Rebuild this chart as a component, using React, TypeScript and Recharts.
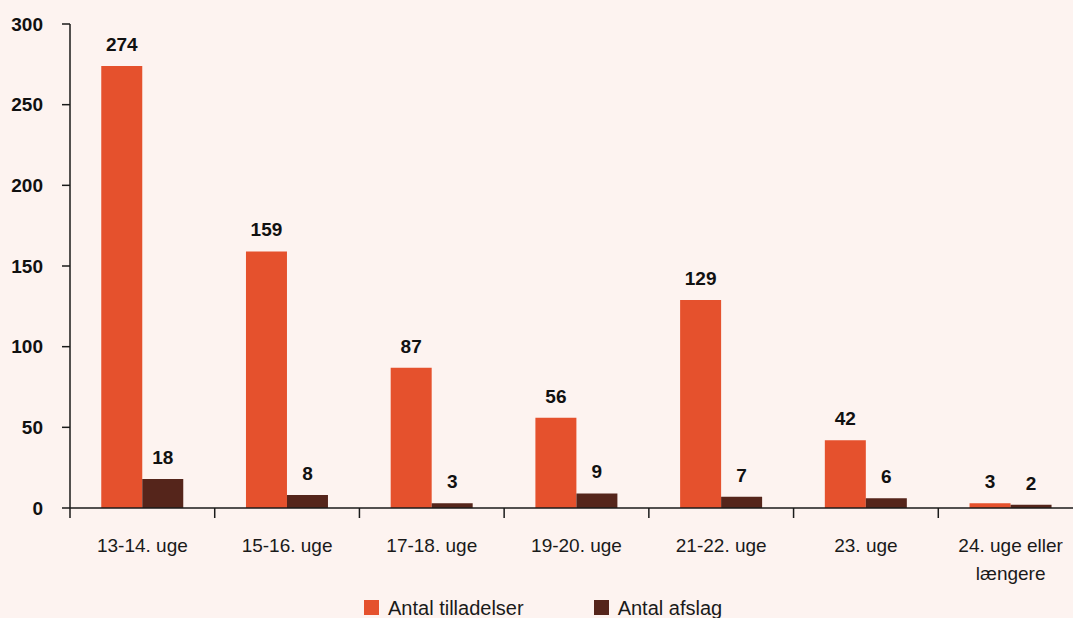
import { BarChart, Bar, XAxis, YAxis, LabelList, Legend } from 'recharts';

const categories = [
  '13-14. uge',
  '15-16. uge',
  '17-18. uge',
  '19-20. uge',
  '21-22. uge',
  '23. uge',
  '24. uge eller\nlængere',
];
const tilladelser = [274, 159, 87, 56, 129, 42, 3];
const afslag = [18, 8, 3, 9, 7, 6, 2];
const yTicks = [0, 50, 100, 150, 200, 250, 300];

const seriesNames = { tilladelser: 'Antal tilladelser', afslag: 'Antal afslag' };
const colors = { tilladelser: '#E5512D', afslag: '#55251B' };

const data = categories.map((name, i) => ({
  name,
  tilladelser: tilladelser[i],
  afslag: afslag[i],
}));

const FONT = '"Liberation Sans", Arial, Helvetica, sans-serif';
const AXIS = '#1a1a1a';

function CategoryTick(props: any) {
  const { x, y, payload } = props;
  const half = payload?.offset ?? 72.3;
  const lines = String(payload.value).split('\n');
  return (
    <g>
      <line x1={x - half} y1={y} x2={x - half} y2={y + 10} stroke={AXIS} strokeWidth={1.5} />
      <text x={x} y={y + 44} textAnchor="middle" fill="#1a1a1a" fontSize={19} fontFamily={FONT}>
        {lines.map((l, i) => (
          <tspan key={i} x={x} dy={i === 0 ? 0 : 28}>
            {l}
          </tspan>
        ))}
      </text>
    </g>
  );
}

function renderLegend() {
  const items = [
    { key: 'tilladelser', label: seriesNames.tilladelser, color: colors.tilladelser },
    { key: 'afslag', label: seriesNames.afslag, color: colors.afslag },
  ];
  return (
    <div style={{ display: 'flex', fontFamily: FONT, fontSize: 20, lineHeight: '20px', color: '#1a1a1a' }}>
      {items.map((it, i) => (
        <div key={it.key} style={{ display: 'flex', alignItems: 'flex-start', marginRight: i === 0 ? 70 : 0 }}>
          <span style={{ width: 15, height: 15, background: it.color, marginTop: 2, marginRight: 9, display: 'inline-block' }} />
          <span style={{ whiteSpace: 'nowrap' }}>{it.label}</span>
        </div>
      ))}
    </div>
  );
}

export default function App() {
  return (
    <div
      style={{
        position: 'absolute',
        left: 0,
        top: 0,
        width: 1073,
        height: 618,
        overflow: 'hidden',
        background: '#FDF3F0',
      }}
    >
      <BarChart
        width={1090}
        height={618}
        data={data}
        margin={{ top: 24, right: 7, left: 10, bottom: 50 }}
        barCategoryGap="21.6%"
        barGap={0}
      >
        <XAxis
          dataKey="name"
          tick={<CategoryTick />}
          tickLine={false}
          tickSize={0}
          tickMargin={0}
          height={60}
          interval={0}
          axisLine={{ stroke: AXIS, strokeWidth: 1.5 }}
        />
        <YAxis
          domain={[0, 300]}
          ticks={yTicks}
          width={60}
          tickSize={8}
          tickMargin={19}
          interval={0}
          axisLine={{ stroke: AXIS, strokeWidth: 1.5 }}
          tickLine={{ stroke: AXIS, strokeWidth: 1.5 }}
          tick={{ fill: '#111', fontSize: 19, fontWeight: 'bold', fontFamily: FONT }}
        />
        <Legend
          layout="vertical"
          verticalAlign="middle"
          align="center"
          content={renderLegend}
          wrapperStyle={{ position: 'absolute', left: 364, top: 598, width: 'auto', height: 'auto' }}
        />
        <Bar dataKey="tilladelser" name={seriesNames.tilladelser} fill={colors.tilladelser} isAnimationActive={false}>
          <LabelList
            dataKey="tilladelser"
            position="top"
            offset={15}
            fill="#111"
            fontSize={19}
            fontWeight="bold"
            fontFamily={FONT}
          />
        </Bar>
        <Bar dataKey="afslag" name={seriesNames.afslag} fill={colors.afslag} isAnimationActive={false}>
          <LabelList
            dataKey="afslag"
            position="top"
            offset={15}
            fill="#111"
            fontSize={19}
            fontWeight="bold"
            fontFamily={FONT}
          />
        </Bar>
      </BarChart>
    </div>
  );
}
